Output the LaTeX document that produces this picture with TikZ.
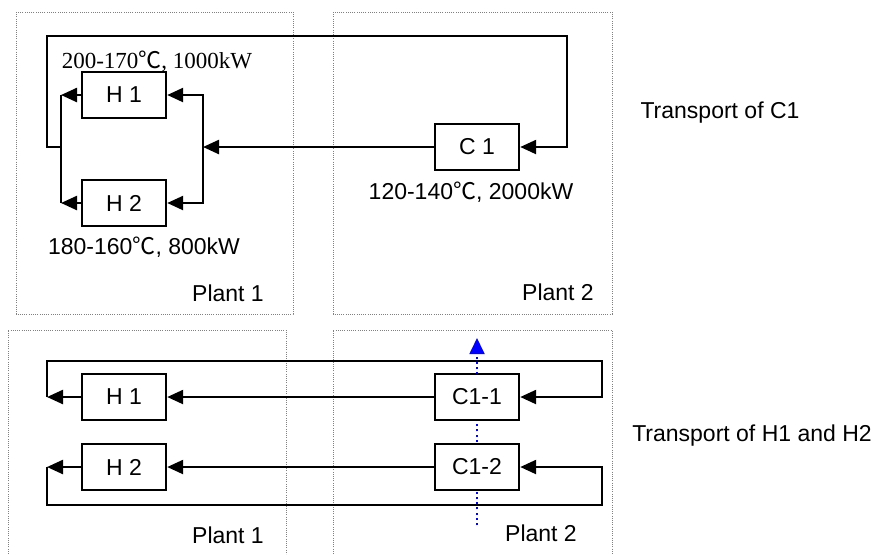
\documentclass[tikz,border=0pt]{standalone}
\usepackage{fontspec}
\setmainfont{Liberation Sans}
\newfontfamily\serifpart{Liberation Serif}
\newfontfamily\cjk{Noto Sans CJK SC}
\newcommand{\degc}{{\cjk ℃}}
\usetikzlibrary{arrows.meta}

\begin{document}
\begin{tikzpicture}[x=0.5pt, y=-0.5pt, line width=1.2pt,
	every node/.style={font=\fontsize{11.5}{13}\selectfont},
	>={Triangle[length=8pt,width=7pt]},
	unit/.style={draw, fill=white, minimum width=42pt, minimum height=23pt, inner sep=0pt},
	plant/.style={draw=gray, line width=0.5pt, dash pattern=on 0.5pt off 0.6pt},
	transfer/.style={blue, line width=0.9pt, dash pattern=on 1pt off 1.6pt, -{Triangle[length=8pt,width=7.5pt]}}]
	\useasboundingbox (0,0) rectangle (876,554);
	% plants
	\draw[plant] (16,12) rectangle (293,314);
	\draw[plant] (333,12) rectangle (612,314);
	\draw[plant] (8,554) -- (8,330) -- (286,330) -- (286,554);
	\draw[plant] (333,554) -- (333,330) -- (612,330) -- (612,554);
	\node (p1t) at (228,293) {Plant 1};
	\node (p2t) at (558,292) {Plant 2};
	\node (p1b) at (228,535) {Plant 1};
	\node (p2b) at (541,533) {Plant 2};
	% transport of C1
	\node[unit] (h1t) at (124,95) {H 1};
	\node[unit] (h2t) at (124,203) {H 2};
	\node[unit] (c1t) at (477,147) {C 1};
	\coordinate (jr) at (203,147);
	\coordinate (jl) at (61,147);
	\draw[->] (c1t.west) -- (jr);
	\draw[->] (jr) |- (h1t.east);
	\draw[->] (jr) |- (h2t.east);
	\draw[->] (h1t.west) -- (h1t.west -| jl);
	\draw[->] (h2t.west) -- (h2t.west -| jl);
	\draw (h1t.west -| jl) -- (h2t.west -| jl);
	\draw[->] (jl) -- (47,147) -- (47,36) -- (567,36) |- (c1t.east);
	\node (lh1) at (157,61) {\serifpart 200-170\degc, 1000kW};
	\node (lh2) at (144,247) {180-160\degc, 800kW};
	\node (lc1) at (471,192) {120-140\degc, 2000kW};
	\node (tc1) at (720,113) {Transport of C1};
	% transport of H1 and H2
	\coordinate (bs) at (477,525);
	\coordinate (be) at (477,338);
	\draw[transfer] (bs) -- (be);
	\node[unit] (h1b) at (124,397) {H 1};
	\node[unit] (h2b) at (124,467) {H 2};
	\node[unit] (c11) at (477,397) {C1-1};
	\node[unit] (c12) at (477,467) {C1-2};
	\coordinate (k1) at (47,397);
	\coordinate (k2) at (47,467);
	\draw[->] (c11.west) -- (h1b.east);
	\draw[->] (c12.west) -- (h2b.east);
	\draw[->] (h1b.west) -- (k1);
	\draw[->] (h2b.west) -- (k2);
	\draw[->] (k1) -- (47,361) -- (602,361) |- (c11.east);
	\draw[->] (k2) -- (47,505) -- (602,505) |- (c12.east);
	\node (th) at (752,436) {Transport of H1 and H2};
\end{tikzpicture}
\end{document}
